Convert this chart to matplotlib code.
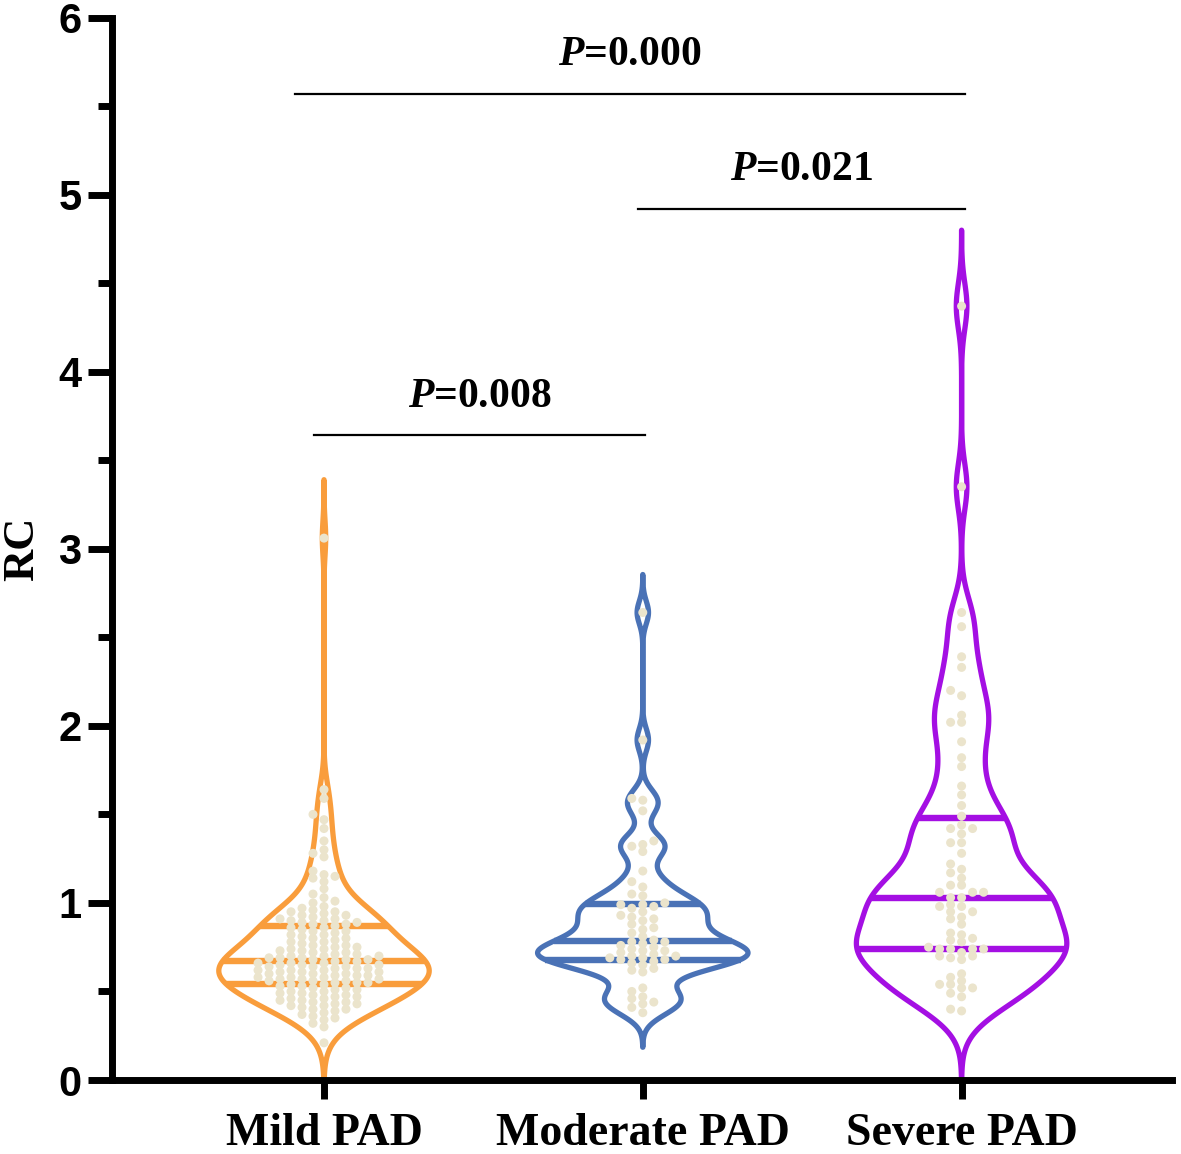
import numpy as np
import matplotlib
matplotlib.use("Agg")
import matplotlib.pyplot as plt
from matplotlib.ticker import MultipleLocator

plt.rcParams['mathtext.fontset'] = 'custom'
plt.rcParams['mathtext.it'] = 'Liberation Serif:italic:bold'
plt.rcParams['mathtext.rm'] = 'Liberation Serif:bold'

# ---- data ----
groups = ['Mild PAD', 'Moderate PAD', 'Severe PAD']

mild = [3.06, 1.64, 1.59, 1.50, 1.47, 1.42, 1.35, 1.30, 1.28, 1.26, 1.18, 1.16, 1.15,
        1.14, 1.12, 1.08, 1.05, 1.03, 1.01, 1.00, 0.98, 0.97, 0.96, 0.95, 0.95, 0.94,
        0.93, 0.93, 0.92, 0.91, 0.91, 0.90, 0.90, 0.89, 0.89, 0.88, 0.88,
        0.87, 0.86, 0.86, 0.85, 0.84, 0.84, 0.83, 0.82, 0.82, 0.81, 0.80, 0.80, 0.79,
        0.78, 0.78, 0.77, 0.76, 0.76, 0.75, 0.75, 0.74, 0.74, 0.73, 0.73, 0.72, 0.72,
        0.71, 0.71, 0.70, 0.70, 0.70, 0.69, 0.69, 0.69, 0.68, 0.68, 0.68, 0.67,
        0.67, 0.66, 0.66, 0.66, 0.65, 0.65, 0.65, 0.64, 0.64, 0.64, 0.63, 0.63, 0.63,
        0.62, 0.62, 0.62, 0.61, 0.61, 0.61, 0.60, 0.60, 0.60, 0.59, 0.59, 0.59, 0.58,
        0.58, 0.58, 0.57, 0.57, 0.57, 0.56, 0.56, 0.56, 0.55, 0.55, 0.55, 0.54,
        0.54, 0.53, 0.53, 0.52, 0.52, 0.51, 0.51, 0.50, 0.50, 0.49, 0.49, 0.48, 0.48,
        0.47, 0.47, 0.46, 0.46, 0.45, 0.45, 0.44, 0.44, 0.43, 0.43, 0.42, 0.42, 0.41,
        0.40, 0.40, 0.39, 0.38, 0.37, 0.36, 0.35, 0.34, 0.32, 0.30, 0.21]

moderate = [2.64, 1.92, 1.59, 1.58, 1.52, 1.35, 1.33, 1.32, 1.29, 1.18, 1.12, 1.09,
            1.05, 1.04, 1.00,
            0.99, 0.99, 0.98, 0.97, 0.95, 0.93, 0.92, 0.91, 0.90, 0.88, 0.86, 0.85,
            0.83, 0.81, 0.79,
            0.78, 0.78, 0.77, 0.76, 0.75, 0.74, 0.73, 0.73, 0.72, 0.71, 0.70, 0.70,
            0.69, 0.69, 0.68,
            0.68, 0.67, 0.66, 0.65, 0.63, 0.62, 0.61, 0.52, 0.50, 0.47, 0.46, 0.44,
            0.43, 0.41, 0.38]

severe = [4.37, 3.35, 2.64, 2.56, 2.39, 2.33, 2.20, 2.17, 2.06, 2.02, 2.02, 1.91,
          1.82, 1.77, 1.66, 1.61, 1.49, 1.55,
          1.44, 1.42, 1.42, 1.39, 1.34, 1.34, 1.28, 1.22, 1.19, 1.17, 1.14, 1.10,
          1.10, 1.06, 1.06, 1.06,
          1.03, 1.03, 0.99, 0.98, 0.98, 0.95, 0.95, 0.92, 0.91, 0.88, 0.83, 0.82,
          0.80, 0.79, 0.78, 0.75,
          0.74, 0.74, 0.74, 0.74, 0.72, 0.70, 0.70, 0.69, 0.68, 0.60, 0.58, 0.56,
          0.54, 0.54, 0.52, 0.52, 0.49, 0.47, 0.40, 0.39]

colors = ['#f99d3c', '#4a72b6', '#a40fe3']
bandwidths = [0.10, 0.065, 0.13]
dot_color = '#ebe4cc'

brackets = [(-0.03, 1.006, 3.64, 'P=0.008'),
            (0.985, 2.01, 4.92, 'P=0.021'),
            (-0.09, 2.01, 5.57, 'P=0.000')]

PX_PER_Y = 177.1
PX_PER_X = 319.0
HALF_W = 0.33


def kde_outline(vals, bw):
    v = np.asarray(vals)
    lo = max(0.0, v.min() - 3 * bw)
    hi = v.max() + 3.3 * bw
    yy = np.linspace(lo, hi, 800)
    d = np.exp(-0.5 * ((yy[:, None] - v[None, :]) / bw) ** 2).sum(axis=1)
    return yy, d / d.max() * HALF_W


def swarm(vals, col_px=11.0, min_gap=6.0):
    order = np.argsort(vals)
    offs = np.zeros(len(vals))
    placed = {}
    cols = [0]
    for k in range(1, 30):
        cols += [-k, k]
    for i in order:
        y = vals[i] * PX_PER_Y
        for c in cols:
            if all(abs(y - q) >= min_gap for q in placed.get(c, [])):
                placed.setdefault(c, []).append(y)
                offs[i] = c * col_px / PX_PER_X
                break
    return offs


fig = plt.figure(figsize=(11.81, 11.54), dpi=100)
ax = fig.add_axes([112 / 1181, 74 / 1154, (1172 - 112) / 1181, (1080 - 17.5) / 1154])

for i, (vals, col, bw) in enumerate(zip([mild, moderate, severe], colors, bandwidths)):
    vals = np.array(vals)
    yy, w = kde_outline(vals, bw)
    xs = np.concatenate([i + w, (i - w)[::-1]])
    ys = np.concatenate([yy, yy[::-1]])
    ax.fill(xs, ys, facecolor='white', edgecolor=col, lw=3.8, zorder=2,
            joinstyle='round', clip_on=False)
    for q in np.percentile(vals, [25, 50, 75]):
        hw = np.interp(q, yy, w)
        ax.plot([i - hw, i + hw], [q, q], color=col, lw=4.6, zorder=3,
                solid_capstyle='butt')
    ax.scatter(i + swarm(vals), vals, s=42, color=dot_color, edgecolors='none', zorder=4)

for x0, x1, y, label in brackets:
    ax.plot([x0, x1], [y, y], color='black', lw=1.6, zorder=5)
    ax.text((x0 + x1) / 2, y + 0.11, r'$P$' + label[1:], ha='center', va='bottom',
            fontsize=30, family='Liberation Serif', weight='bold')

ax.set_xlim(-0.665, 2.66)
ax.set_ylim(0, 6)
ax.set_xticks(range(3))
ax.set_xticklabels(groups, family='Liberation Serif', weight='bold', fontsize=33)
ax.yaxis.set_major_locator(MultipleLocator(1))
ax.yaxis.set_minor_locator(MultipleLocator(0.5))
for lab in ax.get_yticklabels():
    lab.set_family('Liberation Sans')
    lab.set_weight('bold')
    lab.set_fontsize(30)

ax.set_ylabel('RC', family='Liberation Serif', weight='bold', fontsize=32)
ax.yaxis.set_label_coords(-0.066, 0.5)

for s in ['top', 'right']:
    ax.spines[s].set_visible(False)
for s in ['left', 'bottom']:
    ax.spines[s].set_linewidth(5)
    ax.spines[s].set_capstyle('projecting')
ax.tick_params(axis='y', which='major', length=17, width=5, pad=5)
ax.tick_params(axis='y', which='minor', length=10, width=5)
ax.tick_params(axis='x', which='major', length=14, width=5, pad=10)

fig.savefig('out.png', dpi=100)
